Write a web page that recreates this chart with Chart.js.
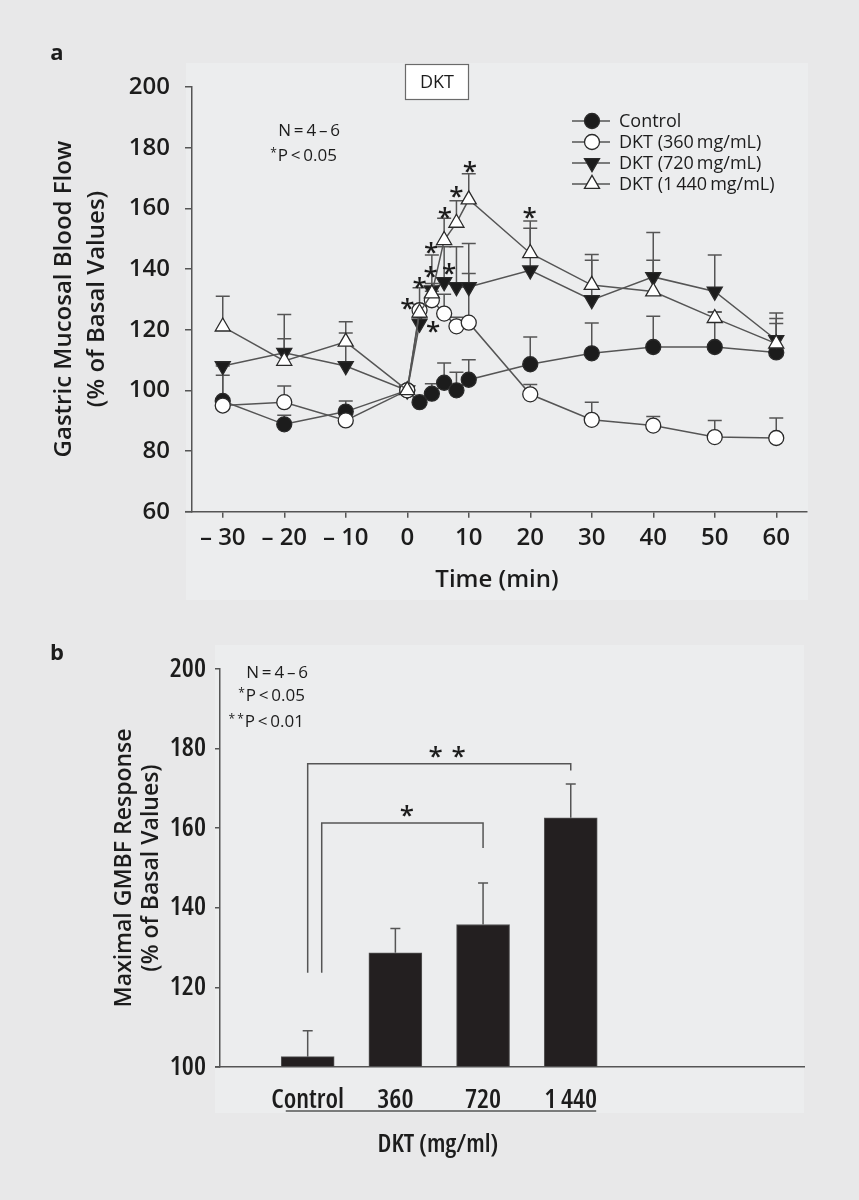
<!DOCTYPE html>
<html>
<head>
<meta charset="utf-8">
<script src="https://cdn.jsdelivr.net/npm/chart.js@4.4.1/dist/chart.umd.min.js"></script>
<style>
  html, body { margin: 0; padding: 0; background: #e8e8e9; }
  #wrap { position: relative; width: 859px; height: 1200px; }
  canvas { position: absolute; left: 0; }
</style>
</head>
<body>
<div id="wrap">
  <canvas id="chartA" width="859" height="610" style="top:0"></canvas>
  <canvas id="chartB" width="859" height="590" style="top:610px"></canvas>
</div>
<script>
// ---- Panel a: gastric mucosal blood flow over time ----
const times = [-30, -20, -10, 0, 2, 4, 6, 8, 10, 20, 30, 40, 50, 60];
const control = [96.5, 88.8, 93, 100, 96.1, 98.9, 102.5, 100, 103.5, 108.6, 112.2, 114.3, 114.3, 112.5];
const controlSem = [8.5, 3, 3.5, 0, 1.5, 3.3, 6.5, 6, 6.6, 9, 10, 10.1, 11.5, 9.5];
const dkt360 = [95, 96.1, 90.1, 100, 126.4, 129.7, 125.3, 121.1, 122.3, 98.7, 90.3, 88.4, 84.6, 84.3];
const dkt360Sem = [13, 5.3, 2, 0, 2, 3, 6.4, 3, 16.2, 3.2, 5.8, 3, 5.5, 6.6];
const dkt720 = [108, 112.4, 108, 100, 122, 133, 135.7, 134.1, 134.1, 139.6, 129.8, 137.4, 132.6, 116.6];
const dkt720Sem = [0.5, 4.6, 10.9, 0, 2, 2.2, 11.6, 13.2, 14.3, 13.8, 15, 14.6, 12, 8.9];
const dkt1440 = [121, 109.7, 116, 100, 125.6, 131.9, 149.5, 155.2, 162.9, 145.2, 134.7, 132.6, 123.8, 115.4];
const dkt1440Sem = [10, 15.3, 6.6, 0, 8.2, 12.7, 7.2, 7.3, 8.5, 10.6, 8.2, 10.3, 2, 8.3];
const timeTicks = [-30, -20, -10, 0, 10, 20, 30, 40, 50, 60];
const flowTicks = [60, 80, 100, 120, 140, 160, 180, 200];
// significance stars, [time, value]
const starsA = [[0, 128.6], [2, 135.5], [3.8, 139], [3.9, 147], [4.2, 121], [6.8, 139.9],
                [6.1, 158.6], [8.0, 165.3], [10.2, 173.6], [19.9, 158.5]];

// ---- Panel b: maximal response ----
const doseLabels = ['Control', '360', '720', '1\u2009440'];
const maxResponse = [102.6, 128.7, 135.8, 162.6];
const maxResponseSem = [6.5, 6.1, 10.4, 8.5];
const responseTicks = [100, 120, 140, 160, 180, 200];

const INK = '#1c1c1c';
const LINE = '#555555';
const FONT = '"Open Sans", "Noto Sans", sans-serif';

function pts(vals) {
  return times.map((t, i) => ({ x: t, y: vals[i] }));
}

function drawStar(ctx, x, y, size) {
  ctx.font = '600 ' + size + 'px ' + FONT;
  ctx.textAlign = 'center';
  ctx.textBaseline = 'alphabetic';
  ctx.fillText('*', x, y + size * 0.5);
}

// note text with a small superscript star prefix, right edge at x
function noteLine(ctx, stars, text, x, y, size) {
  ctx.textAlign = 'right';
  ctx.textBaseline = 'middle';
  ctx.font = size + 'px ' + FONT;
  ctx.fillText(text, x, y);
  const w = ctx.measureText(text).width;
  if (stars) {
    ctx.font = Math.round(size * 0.7) + 'px ' + FONT;
    ctx.fillText(stars, x - w - 1, y - 2);
  }
}

const panelBg = {
  id: 'panelBg',
  beforeDraw(chart, args, opts) {
    const ctx = chart.ctx;
    ctx.save();
    ctx.fillStyle = '#ecedee';
    ctx.fillRect(opts.x, opts.y, opts.w, opts.h);
    ctx.restore();
  }
};

const errorBarsA = {
  id: 'errorBarsA',
  beforeDatasetsDraw(chart) {
    const ctx = chart.ctx, ys = chart.scales.y;
    ctx.save();
    ctx.strokeStyle = LINE;
    ctx.lineWidth = 1.5;
    chart.data.datasets.forEach((ds, i) => {
      const meta = chart.getDatasetMeta(i);
      meta.data.forEach((pt, j) => {
        const e = ds.sem[j];
        if (!e) return;
        const top = ys.getPixelForValue(ds.data[j].y + e);
        ctx.beginPath();
        ctx.moveTo(pt.x, pt.y);
        ctx.lineTo(pt.x, top);
        ctx.moveTo(pt.x - 7, top);
        ctx.lineTo(pt.x + 7, top);
        ctx.stroke();
      });
    });
    ctx.restore();
  }
};

const annotA = {
  id: 'annotA',
  afterDraw(chart) {
    const ctx = chart.ctx, xs = chart.scales.x, ys = chart.scales.y, area = chart.chartArea;
    ctx.save();
    ctx.fillStyle = INK;
    // x axis line runs under the y tick marks
    ctx.strokeStyle = LINE;
    ctx.lineWidth = 1.5;
    ctx.beginPath();
    ctx.moveTo(area.left - 7, area.bottom);
    ctx.lineTo(area.left, area.bottom);
    ctx.stroke();
    // stars
    starsA.forEach(s => drawStar(ctx, xs.getPixelForValue(s[0]), ys.getPixelForValue(s[1]), 26));
    // panel letter
    ctx.font = 'bold 22px ' + FONT;
    ctx.textAlign = 'center';
    ctx.textBaseline = 'middle';
    ctx.fillText('a', 57, 54);
    // DKT box
    ctx.fillStyle = '#ffffff';
    ctx.fillRect(405, 64, 64, 36);
    ctx.strokeStyle = '#6a6a6a';
    ctx.lineWidth = 1.2;
    ctx.strokeRect(405.5, 64.5, 63, 35);
    ctx.fillStyle = INK;
    ctx.font = '18px ' + FONT;
    ctx.fillText('DKT', 437, 83);
    // N / P notes
    noteLine(ctx, '', 'N\u2009=\u20094\u2009\u2013\u20096', 340, 131, 17);
    noteLine(ctx, '*', 'P\u2009<\u20090.05', 337, 156, 17);
    // legend
    chart.data.datasets.forEach((ds, i) => {
      const y = [121, 142, 163, 184][i];
      ctx.strokeStyle = LINE;
      ctx.lineWidth = 1.5;
      ctx.beginPath();
      ctx.moveTo(572, y);
      ctx.lineTo(610, y);
      ctx.stroke();
      ctx.fillStyle = ds.pointBackgroundColor;
      ctx.strokeStyle = ds.pointBorderColor;
      ctx.lineWidth = ds.pointBorderWidth;
      Chart.helpers.drawPoint(ctx, {
        pointStyle: ds.pointStyle, radius: ds.pointRadius,
        rotation: ds.pointRotation || 0, borderWidth: ds.pointBorderWidth
      }, 592, y);
      ctx.fillStyle = INK;
      ctx.font = '18px ' + FONT;
      ctx.textAlign = 'left';
      ctx.textBaseline = 'middle';
      ctx.fillText(ds.label, 619, y + 1);
    });
    // axis titles
    ctx.fillStyle = INK;
    ctx.font = '600 24px ' + FONT;
    ctx.textAlign = 'center';
    ctx.textBaseline = 'middle';
    ctx.fillText('Time (min)', 497, 580);
    ctx.translate(0, 299);
    ctx.rotate(-Math.PI / 2);
    ctx.fillText('Gastric Mucosal Blood Flow', 0, 64);
    ctx.fillText('(% of Basal Values)', 0, 97);
    ctx.restore();
  }
};

function series(label, vals, sem, style, fill, rotation, radius, order) {
  return {
    label: label,
    data: pts(vals),
    sem: sem,
    showLine: true,
    borderColor: LINE,
    borderWidth: 1.5,
    pointStyle: style,
    pointRotation: rotation,
    pointRadius: radius,
    pointHoverRadius: radius,
    pointBackgroundColor: fill,
    pointBorderColor: '#2a2a2a',
    pointBorderWidth: 1.3,
    order: order
  };
}

new Chart(document.getElementById('chartA'), {
  type: 'scatter',
  data: {
    datasets: [
      series('Control', control, controlSem, 'circle', '#1c1c1c', 0, 7.5, 3),
      series('DKT (360\u2009mg/mL)', dkt360, dkt360Sem, 'circle', '#ffffff', 0, 7.5, 1),
      series('DKT (720\u2009mg/mL)', dkt720, dkt720Sem, 'triangle', '#1c1c1c', 180, 8.7, 2),
      series('DKT (1\u2009440\u2009mg/mL)', dkt1440, dkt1440Sem, 'triangle', '#ffffff', 0, 8.7, 0)
    ]
  },
  options: {
    responsive: false,
    animation: false,
    events: [],
    layout: { padding: { left: 0, top: 87, right: 52, bottom: 0 } },
    plugins: {
      legend: { display: false },
      tooltip: { enabled: false },
      panelBg: { x: 186, y: 63, w: 622, h: 537 }
    },
    scales: {
      x: {
        type: 'linear',
        min: -35,
        max: 65,
        afterBuildTicks: s => { s.ticks = timeTicks.map(v => ({ value: v })); },
        afterFit: s => { s.height = 98.3; },
        grid: { drawOnChartArea: false, drawTicks: true, tickLength: 6, color: LINE, lineWidth: 1.5 },
        border: { display: true, color: LINE, width: 1.5 },
        ticks: {
          color: INK, padding: 6, maxRotation: 0, autoSkip: false,
          font: { family: FONT, size: 24, weight: '600' },
          callback: v => v < 0 ? '\u2013 ' + Math.abs(v) : String(v)
        }
      },
      y: {
        min: 60,
        max: 200,
        afterBuildTicks: s => { s.ticks = flowTicks.map(v => ({ value: v })); },
        afterFit: s => { s.width = 192; },
        grid: { drawOnChartArea: false, drawTicks: true, tickLength: 7, color: LINE, lineWidth: 1.5 },
        border: { display: true, color: LINE, width: 1.5 },
        ticks: {
          color: INK, padding: 15,
          font: { family: FONT, size: 24, weight: '600' }
        }
      }
    }
  },
  plugins: [panelBg, errorBarsA, annotA]
});

// ---- Panel b chart ----
const brackets = [
  { from: 1, to: 4, level: 176.2, leftEnd: 123.7, rightEnd: 174.5, label: '*\u2009\u2009*', labelX: 2.59 },
  { from: 1.16, to: 3, level: 161.3, leftEnd: 123.7, rightEnd: 155, label: '*', labelX: 2.13 }
];

const annotB = {
  id: 'annotB',
  afterDatasetsDraw(chart) {
    const ctx = chart.ctx, xs = chart.scales.x, ys = chart.scales.y;
    ctx.save();
    ctx.strokeStyle = LINE;
    ctx.lineWidth = 1.5;
    // error bars
    const meta = chart.getDatasetMeta(0);
    meta.data.forEach((bar, j) => {
      const top = ys.getPixelForValue(maxResponse[j] + maxResponseSem[j]);
      ctx.beginPath();
      ctx.moveTo(bar.x, bar.y);
      ctx.lineTo(bar.x, top);
      ctx.moveTo(bar.x - 5, top);
      ctx.lineTo(bar.x + 5, top);
      ctx.stroke();
    });
    // brackets
    ctx.fillStyle = INK;
    brackets.forEach(b => {
      const x1 = xs.getPixelForValue(b.from), x2 = xs.getPixelForValue(b.to);
      const yl = ys.getPixelForValue(b.level);
      ctx.beginPath();
      ctx.moveTo(x1, ys.getPixelForValue(b.leftEnd));
      ctx.lineTo(x1, yl);
      ctx.lineTo(x2, yl);
      ctx.lineTo(x2, ys.getPixelForValue(b.rightEnd));
      ctx.stroke();
      ctx.font = '600 26px ' + FONT;
      ctx.textAlign = 'center';
      ctx.textBaseline = 'alphabetic';
      ctx.fillText(b.label, xs.getPixelForValue(b.labelX), yl + 1);
    });
    ctx.restore();
  },
  afterDraw(chart) {
    const ctx = chart.ctx, xs = chart.scales.x, area = chart.chartArea;
    ctx.save();
    ctx.fillStyle = INK;
    // x axis line runs under the y tick marks
    ctx.strokeStyle = LINE;
    ctx.lineWidth = 1.5;
    ctx.beginPath();
    ctx.moveTo(area.left - 5, area.bottom);
    ctx.lineTo(area.left, area.bottom);
    ctx.stroke();
    ctx.font = 'bold 22px ' + FONT;
    ctx.textAlign = 'center';
    ctx.textBaseline = 'middle';
    ctx.fillText('b', 57, 44);
    // N / P notes
    noteLine(ctx, '', 'N\u2009=\u20094\u2009\u2013\u20096', 308, 63, 17);
    noteLine(ctx, '*', 'P\u2009<\u20090.05', 305, 86, 17);
    noteLine(ctx, '*\u2009*', 'P\u2009<\u20090.01', 304, 112, 17);
    // underline and dose title
    ctx.beginPath();
    ctx.moveTo(xs.getPixelForValue(0.75), area.bottom + 44);
    ctx.lineTo(xs.getPixelForValue(4.29), area.bottom + 44);
    ctx.stroke();
    ctx.textAlign = 'center';
    ctx.font = 'semi-condensed 600 26px ' + FONT;
    ctx.fillText('DKT (mg/ml)', 438, area.bottom + 78);
    // y title
    ctx.translate(0, (area.top + area.bottom) / 2);
    ctx.rotate(-Math.PI / 2);
    ctx.font = '600 23px ' + FONT;
    ctx.fillText('Maximal GMBF Response', 0, 124);
    ctx.fillText('(% of Basal Values)', 0, 151);
    ctx.restore();
  }
};

new Chart(document.getElementById('chartB'), {
  type: 'bar',
  data: {
    datasets: [{
      label: 'Maximal GMBF response',
      data: maxResponse.map((v, i) => ({ x: i + 1, y: v })),
      base: 100,
      backgroundColor: '#231f20',
      borderColor: '#555555',
      borderWidth: 1,
      barThickness: 53
    }]
  },
  options: {
    responsive: false,
    animation: false,
    events: [],
    layout: { padding: { left: 0, top: 59, right: 55, bottom: 0 } },
    plugins: {
      legend: { display: false },
      tooltip: { enabled: false },
      panelBg: { x: 215, y: 35, w: 589, h: 468 }
    },
    scales: {
      x: {
        type: 'linear',
        offset: false,
        min: 0,
        max: 6.66,
        afterBuildTicks: s => { s.ticks = doseLabels.map((_, i) => ({ value: i + 1 })); },
        afterFit: s => { s.height = 133; },
        grid: { display: false, offset: false },
        border: { display: true, color: LINE, width: 1.5 },
        ticks: {
          color: INK, padding: 9, maxRotation: 0, autoSkip: false,
          font: { family: FONT, size: 27, weight: 'semi-condensed 600' },
          callback: v => doseLabels[v - 1]
        }
      },
      y: {
        min: 100,
        max: 200,
        afterBuildTicks: s => { s.ticks = responseTicks.map(v => ({ value: v })); },
        afterFit: s => { s.width = 220; },
        grid: { drawOnChartArea: false, drawTicks: true, tickLength: 5, color: LINE, lineWidth: 1.5 },
        border: { display: true, color: LINE, width: 1.5 },
        ticks: {
          color: INK, padding: 9,
          font: { family: FONT, size: 27, weight: 'semi-condensed 600' }
        }
      }
    }
  },
  plugins: [panelBg, annotB]
});
</script>
</body>
</html>
